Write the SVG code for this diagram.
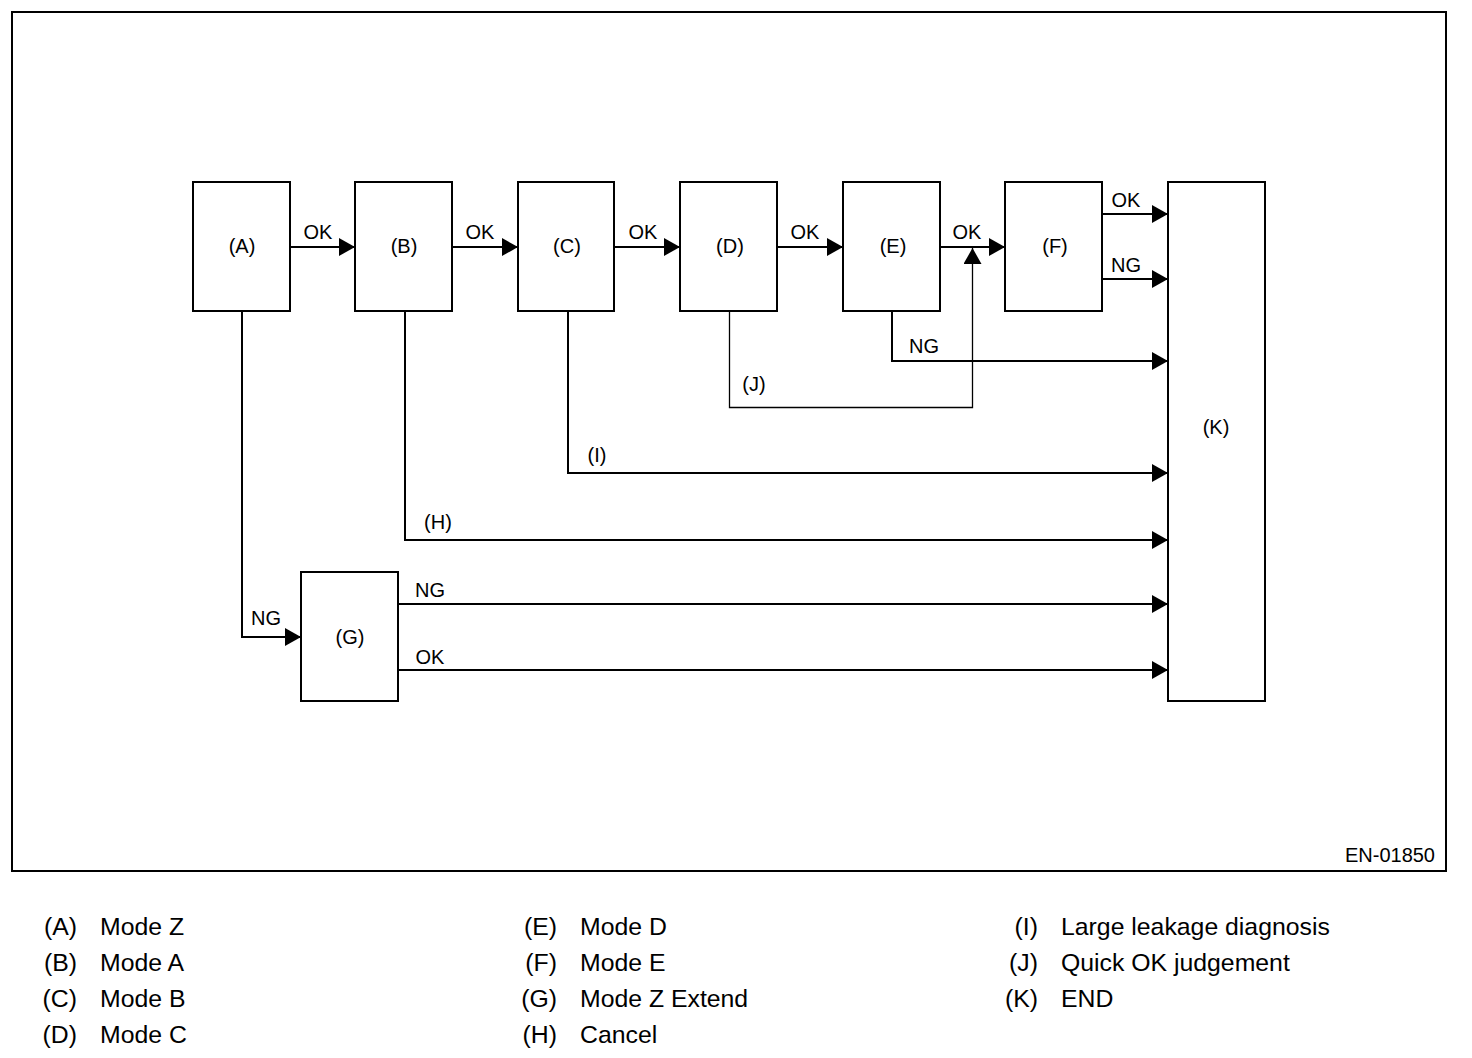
<svg xmlns="http://www.w3.org/2000/svg" width="1472" height="1058" viewBox="0 0 1472 1058">
<style>
.box{fill:#fff;stroke:#000;stroke-width:2}
.ln{fill:none;stroke:#000;stroke-width:2}
.thin{fill:none;stroke:#000;stroke-width:1.3}
.t{font-family:"Liberation Sans",Arial,sans-serif;font-size:20px;fill:#000}
.c{text-anchor:middle}
.lg{font-family:"Liberation Sans",Arial,sans-serif;font-size:24.8px;fill:#000}
.r{text-anchor:end}
</style>
<defs>
<marker id="ah" markerUnits="userSpaceOnUse" markerWidth="17" markerHeight="18" refX="16" refY="9" orient="auto">
<path d="M0,0 L16,9 L0,18 z" fill="#000"/>
</marker>
</defs>
<rect x="0" y="0" width="1472" height="1058" fill="#fff"/>
<rect x="12" y="12" width="1434" height="859" fill="none" stroke="#000" stroke-width="2"/>

<g id="connectors">
<line class="ln" x1="290" y1="247" x2="355" y2="247" marker-end="url(#ah)"/>
<line class="ln" x1="452" y1="247" x2="518" y2="247" marker-end="url(#ah)"/>
<line class="ln" x1="614" y1="247" x2="680" y2="247" marker-end="url(#ah)"/>
<line class="ln" x1="777" y1="247" x2="843" y2="247" marker-end="url(#ah)"/>
<line class="ln" x1="940" y1="247" x2="1005" y2="247" marker-end="url(#ah)"/>
<line class="ln" x1="1102" y1="214" x2="1168" y2="214" marker-end="url(#ah)"/>
<line class="ln" x1="1102" y1="279" x2="1168" y2="279" marker-end="url(#ah)"/>
<polyline class="ln" points="892,311 892,361 1168,361" marker-end="url(#ah)"/>
<polyline class="thin" points="729.5,311 729.5,407.5 972.5,407.5 972.5,248" marker-end="url(#ah)"/>
<polyline class="ln" points="568,311 568,473 1168,473" marker-end="url(#ah)"/>
<polyline class="ln" points="405,311 405,540 1168,540" marker-end="url(#ah)"/>
<polyline class="ln" points="242,311 242,637 301,637" marker-end="url(#ah)"/>
<line class="ln" x1="398" y1="604" x2="1168" y2="604" marker-end="url(#ah)"/>
<line class="ln" x1="398" y1="670" x2="1168" y2="670" marker-end="url(#ah)"/>
<text class="t c" x="318" y="239">OK</text>
<text class="t c" x="480" y="239">OK</text>
<text class="t c" x="643" y="239">OK</text>
<text class="t c" x="805" y="239">OK</text>
<text class="t c" x="967" y="239">OK</text>
<text class="t c" x="1126" y="207">OK</text>
<text class="t c" x="1126" y="272">NG</text>
<text class="t c" x="924" y="353">NG</text>
<text class="t c" x="754" y="391">(J)</text>
<text class="t c" x="597" y="462">(I)</text>
<text class="t c" x="438" y="529">(H)</text>
<text class="t c" x="266" y="625">NG</text>
<text class="t c" x="430" y="597">NG</text>
<text class="t c" x="430" y="664">OK</text>
</g>

<g id="nodeA"><rect class="box" x="193" y="182" width="97" height="129"/><text class="t c" x="242" y="253">(A)</text></g>
<g id="nodeB"><rect class="box" x="355" y="182" width="97" height="129"/><text class="t c" x="404" y="253">(B)</text></g>
<g id="nodeC"><rect class="box" x="518" y="182" width="96" height="129"/><text class="t c" x="567" y="253">(C)</text></g>
<g id="nodeD"><rect class="box" x="680" y="182" width="97" height="129"/><text class="t c" x="730" y="253">(D)</text></g>
<g id="nodeE"><rect class="box" x="843" y="182" width="97" height="129"/><text class="t c" x="893" y="253">(E)</text></g>
<g id="nodeF"><rect class="box" x="1005" y="182" width="97" height="129"/><text class="t c" x="1055" y="253">(F)</text></g>
<g id="nodeG"><rect class="box" x="301" y="572" width="97" height="129"/><text class="t c" x="350" y="644">(G)</text></g>
<g id="nodeK"><rect class="box" x="1168" y="182" width="97" height="519"/><text class="t c" x="1216" y="434">(K)</text></g>

<text class="t r" x="1435" y="862">EN-01850</text>

<g id="legend">
<text class="lg r" x="77" y="935">(A)</text><text class="lg" x="100" y="935">Mode Z</text>
<text class="lg r" x="77" y="971">(B)</text><text class="lg" x="100" y="971">Mode A</text>
<text class="lg r" x="77" y="1007">(C)</text><text class="lg" x="100" y="1007">Mode B</text>
<text class="lg r" x="77" y="1043">(D)</text><text class="lg" x="100" y="1043">Mode C</text>
<text class="lg r" x="557" y="935">(E)</text><text class="lg" x="580" y="935">Mode D</text>
<text class="lg r" x="557" y="971">(F)</text><text class="lg" x="580" y="971">Mode E</text>
<text class="lg r" x="557" y="1007">(G)</text><text class="lg" x="580" y="1007">Mode Z Extend</text>
<text class="lg r" x="557" y="1043">(H)</text><text class="lg" x="580" y="1043">Cancel</text>
<text class="lg r" x="1038" y="935">(I)</text><text class="lg" x="1061" y="935">Large leakage diagnosis</text>
<text class="lg r" x="1038" y="971">(J)</text><text class="lg" x="1061" y="971">Quick OK judgement</text>
<text class="lg r" x="1038" y="1007">(K)</text><text class="lg" x="1061" y="1007">END</text>
</g>
</svg>
